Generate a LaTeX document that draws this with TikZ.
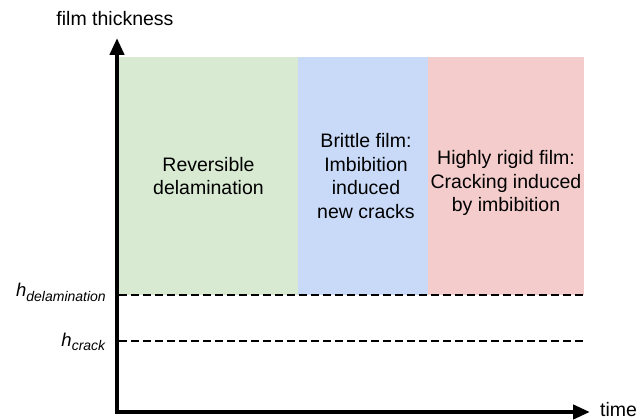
\documentclass[tikz,border=0pt]{standalone}
\usepackage{fontspec}
\setmainfont{Liberation Sans}
\usetikzlibrary{arrows.meta}
\definecolor{lgreen}{HTML}{D9EAD3}
\definecolor{lblue}{HTML}{C9DAF8}
\definecolor{lred}{HTML}{F4CCCC}

\begin{document}
\begin{tikzpicture}[x=1pt,y=1pt,
    axis/.style={line width=4.5pt,{Triangle[length=17pt,width=14pt]}-{Triangle[length=17pt,width=14pt]}},
    level/.style={line width=2pt,dash pattern=on 8pt off 4pt},
    lbl/.style={inner sep=0pt,align=center,font=\fontsize{19.5}{23.5}\selectfont},
    region/.style={inner sep=0pt,minimum height=238pt}]
    \useasboundingbox (0,0) rectangle (638,420);

    \node[region,fill=lgreen,minimum width=179pt] (rev) at (208.5,244) {};
    \node[region,fill=lblue,minimum width=130pt] (brit) at (363,244) {};
    \node[region,fill=lred,minimum width=156pt] (rigid) at (506,244) {};
    \node[lbl] (revtxt) at (rev.center) {Reversible\\delamination};
    \node[lbl,xshift=3pt] (brittxt) at (brit.center) {Brittle film:\\Imbibition\\induced\\new cracks};
    \node[lbl,yshift=-7pt] (rigidtxt) at (rigid.center) {Highly rigid film:\\Cracking induced\\by imbibition};

    \coordinate (o) at (117,8);
    \coordinate (ytop) at (117,382);
    \coordinate (xend) at (590,8);
    \draw[axis] (ytop) -- (o) -- (xend);

    \node[lbl,anchor=base] (ylab) at (115,394) {film thickness};
    \node[lbl,anchor=base west] (xlab) at (600,3) {time};

    \node[inner sep=0pt,anchor=base east,font=\fontsize{18.5}{20}\selectfont] (hdel) at (106,123)
        {\textit{h}\raisebox{-5pt}{\fontsize{14}{16}\selectfont\textit{delamination}}};
    \node[inner sep=0pt,anchor=base east,font=\fontsize{18.5}{20}\selectfont] (hcr) at (106,73)
        {\textit{h}\raisebox{-4pt}{\fontsize{14}{16}\selectfont\textit{crack}}};

    \coordinate (d1) at (119,125);
    \coordinate (d1e) at (584,125);
    \coordinate (d2) at (119,79);
    \coordinate (d2e) at (584,79);
    \draw[level] (d1) -- (d1e);
    \draw[level] (d2) -- (d2e);
\end{tikzpicture}
\end{document}
